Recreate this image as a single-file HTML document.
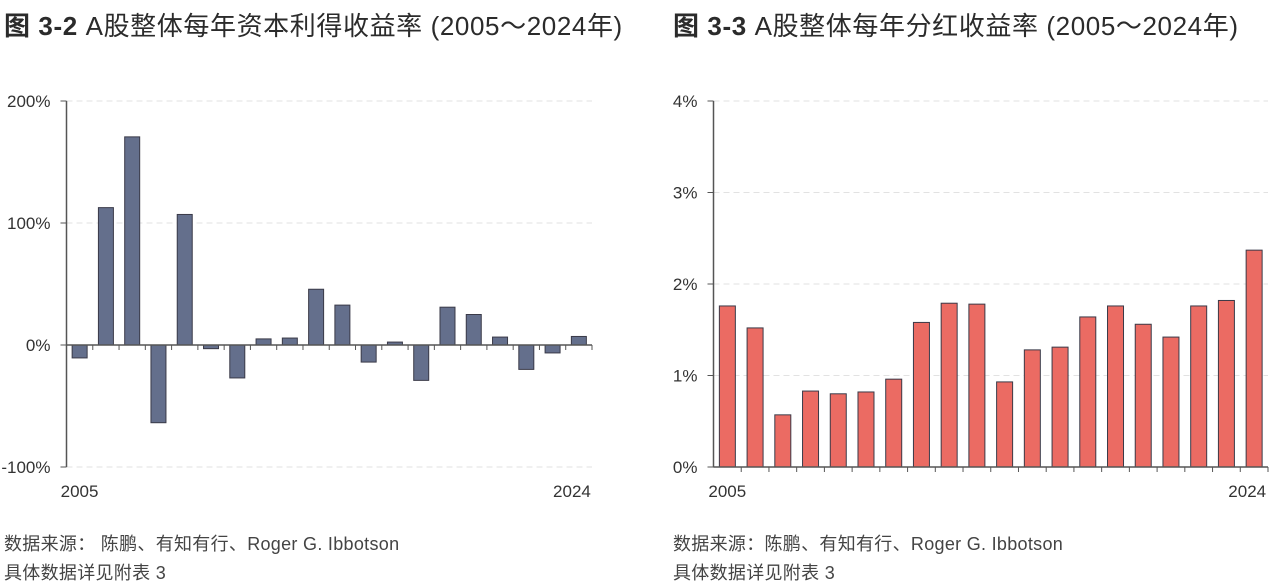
<!DOCTYPE html>
<html><head><meta charset="utf-8">
<style>
body{margin:0;background:#fff;width:1280px;height:586px;overflow:hidden;font-family:"Liberation Sans","Noto Sans CJK SC",sans-serif;color:#333;}
.t{position:absolute;top:6px;font-size:26px;letter-spacing:0.6px;color:#2b2b2b;white-space:nowrap}
.t b{font-weight:bold}
.src{position:absolute;font-size:18px;letter-spacing:0.3px;color:#444;white-space:nowrap}
svg{position:absolute;left:0;top:0}
</style></head><body>
<div class="t" style="left:4px"><b>图 3-2</b> A股整体每年资本利得收益率 (2005～2024年)</div>
<div class="t" style="left:673px"><b>图 3-3</b> A股整体每年分红收益率 (2005～2024年)</div>
<div class="src" style="left:4px;top:530px">数据来源： 陈鹏、有知有行、Roger G. Ibbotson</div>
<div class="src" style="left:4px;top:559px">具体数据详见附表 3</div>
<div class="src" style="left:673px;top:530px">数据来源：陈鹏、有知有行、Roger G. Ibbotson</div>
<div class="src" style="left:673px;top:559px">具体数据详见附表 3</div>
<svg id="c" width="1280" height="586"></svg>
<script>
const years=["2005","2006","2007","2008","2009","2010","2011","2012","2013","2014","2015","2016","2017","2018","2019","2020","2021","2022","2023","2024"];
const capitalGain=[-10.6,112.6,170.6,-63.7,107,-3,-27,5,5.7,45.7,32.7,-14,2.4,-29,31,25,6.5,-20,-6.5,7];
const dividendYield=[1.76,1.52,0.57,0.83,0.80,0.82,0.96,1.58,1.79,1.78,0.93,1.28,1.31,1.64,1.76,1.56,1.42,1.76,1.82,2.37];
const leftTicks=[-100,0,100,200];
const leftTickLabels=["-100%","0%","100%","200%"];
const rightTicks=[0,1,2,3,4];
const rightTickLabels=["0%","1%","2%","3%","4%"];
const NS="http://www.w3.org/2000/svg";
const svg=document.getElementById('c');
function mk(tag,attrs,name){const e=document.createElementNS(NS,tag);for(const k in attrs)e.setAttribute(k,attrs[k]);


svg.appendChild(e);return e;}
function chart(o){
 const y=v=>o.y0-(v-o.vmin)/(o.vmax-o.vmin)*(o.y0-o.y1);
 const band=(o.x1-o.x0)/o.data.length;
 const xc=i=>o.x0+band*(i+0.5);
 o.ticks.forEach((t,i)=>{
  if(t!==o.base) mk('line',{x1:o.x0,x2:o.x1,y1:y(t),y2:y(t),stroke:'#e2e2e2','stroke-dasharray':'6,4'},o.p+'-gridline');
  mk('line',{x1:o.x0-6,x2:o.x0,y1:y(t),y2:y(t),stroke:'#555'},o.p+'-y-tick');
  const tx=mk('text',{x:o.x0-16,y:y(t)+6,'text-anchor':'end','font-size':17,fill:'#333','font-family':'Liberation Sans,sans-serif'},o.p+'-y-tick-label');tx.textContent=o.labels[i];
 });
 o.data.forEach((v,i)=>{
  const a=y(Math.max(v,o.base)),b=y(Math.min(v,o.base));
  mk('rect',{x:xc(i)-o.bw/2,y:a,width:o.bw,height:Math.max(b-a,1),fill:o.fill,stroke:'#3a3a48','stroke-width':1},o.p+'-bar-'+years[i]);
 });
 mk('line',{x1:o.x0,x2:o.x0,y1:o.y1,y2:o.y0,stroke:'#555','stroke-width':1.5},o.p+'-y-axis');
 mk('line',{x1:o.x0,x2:o.x1,y1:y(o.base),y2:y(o.base),stroke:'#555','stroke-width':1.5},o.p+'-x-axis');
 for(let i=1;i<=o.data.length;i++) mk('line',{x1:o.x0+band*i,x2:o.x0+band*i,y1:y(o.base),y2:y(o.base)+5,stroke:'#555'},o.p+'-x-tick');
 let t=mk('text',{x:xc(0)-19,y:o.y0+30,'font-size':17,fill:'#333'},o.p+'-x-label-start');t.textContent=years[0];
 t=mk('text',{x:xc(o.data.length-1)+12,y:o.y0+30,'font-size':17,fill:'#333','text-anchor':'end'},o.p+'-x-label-end');t.textContent=years[years.length-1];
}
chart({p:'left',data:capitalGain,x0:66.5,x1:592,y0:467,y1:101,vmin:-100,vmax:200,base:0,ticks:leftTicks,labels:leftTickLabels,bw:15,fill:'#646f8c'});
chart({p:'right',data:dividendYield,x0:713.5,x1:1268,y0:467,y1:101,vmin:0,vmax:4,base:0,ticks:rightTicks,labels:rightTickLabels,bw:16,fill:'#eb6b63'});
</script>
</body></html>
